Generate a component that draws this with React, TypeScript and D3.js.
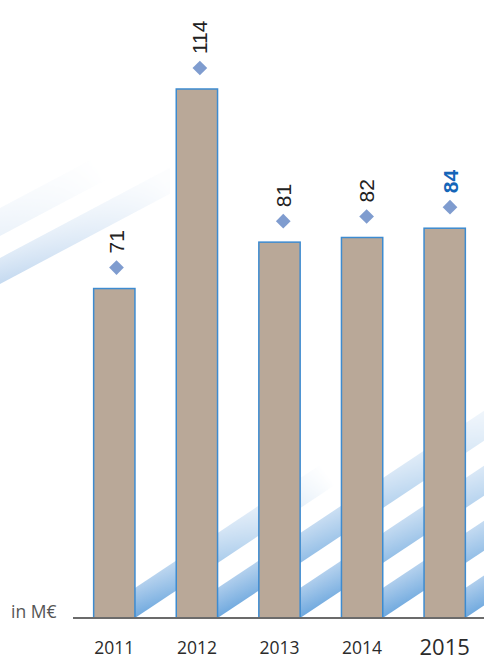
import { useMemo } from 'react'
import * as d3 from 'd3'

// revenue per year, in M€
const years = ['2011', '2012', '2013', '2014', '2015']
const revenue = [71, 114, 81, 82, 84]
const highlightYear = '2015'
const unitLabel = 'in M€'

const WIDTH = 484
const HEIGHT = 664
const BASELINE = 618

interface Stripe {
  id: string
  x0: number
  y0: number
  length: number
  slope: number
  thickness: number
  fade: number
  a0: number
  a1: number
  light: string
  dark: string
}

function stripePath(s: Stripe) {
  const { x0, y0, length, slope, thickness } = s
  const x1 = x0 + length
  const y1 = y0 - slope * length
  return `M${x0},${y0}L${x1},${y1}L${x1},${y1 - thickness}L${x0},${y0 - thickness}Z`
}

export default function App() {
  const x = useMemo(() => d3.scaleBand<string>()
    .domain(years)
    .range([73, 486])
    .paddingInner(0.5)
    .paddingOuter(0.25), [])

  // the marker series sits on a slightly wider point scale than the bars
  const markerX = useMemo(() => d3.scalePoint<string>()
    .domain(years)
    .range([116.5, 450]), [])

  const y = useMemo(() => d3.scaleLinear()
    .domain([0, d3.max(revenue) as number])
    .range([BASELINE, 89]), [])

  const diamond = d3.symbol().type(d3.symbolSquare).size(108)() as string

  // decorative diagonal bands: one rises from the right edge of every bar
  const stripes: Stripe[] = useMemo(() => {
    const bottom = years.map((yr, i) => {
      const s = (x(yr) as number) + x.bandwidth()
      return {
        id: `band-${i}`,
        x0: s,
        y0: BASELINE,
        length: WIDTH + 10 - s,
        slope: 0.665,
        thickness: 30,
        fade: Math.min(200 + 140 * i, 340),
        a0: 1,
        a1: 0,
        light: '#a9caeb',
        dark: '#6ea8de'
      }
    })
    const topLeft = [
      { id: 'band-tl-a', x0: -4, y0: 238, length: 110, slope: 0.53, thickness: 28, fade: 110, a0: 0.35, a1: 0, light: '#dde9f6', dark: '#c4d9ef' },
      { id: 'band-tl-b', x0: -4, y0: 286, length: 174, slope: 0.53, thickness: 26, fade: 174, a0: 0.8, a1: 0.06, light: '#d3e3f4', dark: '#b4cfec' }
    ]
    return [...topLeft, ...bottom]
  }, [x])

  return (
    <svg
      width={WIDTH}
      height={HEIGHT}
      style={{ position: 'absolute', left: 0, top: 0, background: '#fff' }}
      fontFamily="'Open Sans', 'Liberation Sans', Arial, sans-serif"
    >
      <defs>
        {stripes.map(s => {
          const k = s.thickness / (1 + s.slope * s.slope)
          return (
            <g key={s.id}>
              <linearGradient
                id={`${s.id}-across`}
                gradientUnits="userSpaceOnUse"
                x1={s.x0}
                y1={s.y0 - s.thickness}
                x2={s.x0 + s.slope * k}
                y2={s.y0 - s.thickness + k}
              >
                <stop offset="0" stopColor={s.light} />
                <stop offset="1" stopColor={s.dark} />
              </linearGradient>
              <linearGradient
                id={`${s.id}-along`}
                gradientUnits="userSpaceOnUse"
                x1={s.x0}
                y1={s.y0}
                x2={s.x0 + s.fade}
                y2={s.y0 - s.slope * s.fade}
              >
                <stop offset="0" stopColor="#fff" stopOpacity={s.a0} />
                <stop offset="1" stopColor="#fff" stopOpacity={s.a1} />
              </linearGradient>
              <mask id={`${s.id}-mask`} maskUnits="userSpaceOnUse" x={0} y={0} width={WIDTH} height={HEIGHT}>
                <rect x={0} y={0} width={WIDTH} height={HEIGHT} fill={`url(#${s.id}-along)`} />
              </mask>
            </g>
          )
        })}
      </defs>

      {/* background bands */}
      <g className="stripes">
        {stripes.map(s => (
          <path
            key={s.id}
            d={stripePath(s)}
            fill={`url(#${s.id}-across)`}
            mask={`url(#${s.id}-mask)`}
          />
        ))}
      </g>

      {/* bars */}
      <g className="bars">
        {years.map((yr, i) => (
          <rect
            key={yr}
            x={x(yr)}
            y={y(revenue[i])}
            width={x.bandwidth()}
            height={BASELINE - y(revenue[i])}
            fill="#b9a898"
            stroke="#3d8bd0"
            strokeWidth={1.5}
          />
        ))}
      </g>

      {/* baseline */}
      <line x1={73} x2={WIDTH} y1={BASELINE} y2={BASELINE} stroke="#6b6b6b" strokeWidth={2} />

      {/* markers and value labels */}
      <g className="markers">
        {years.map((yr, i) => {
          const mx = markerX(yr) as number
          const my = y(revenue[i]) - 21
          const hot = yr === highlightYear
          return (
            <g key={yr}>
              <path d={diamond} transform={`translate(${mx},${my}) rotate(45)`} fill="#7f9ccf" />
              <text
                transform={`translate(${mx},${my - 14}) rotate(-90)`}
                dy="0.36em"
                fontFamily="'Liberation Sans', Arial, sans-serif"
                fontSize={21}
                fontWeight={hot ? 700 : 400}
                fill={hot ? '#1565b8' : '#222'}
              >
                {revenue[i]}
              </text>
            </g>
          )
        })}
      </g>

      {/* x axis labels */}
      <g className="x-axis">
        {years.map(yr => (
          <text
            key={yr}
            x={(x(yr) as number) + x.bandwidth() / 2}
            y={yr === highlightYear ? 655 : 654}
            textAnchor="middle"
            fontSize={yr === highlightYear ? 22 : 17.5}
            fill="#2b2b2b"
          >
            {yr}
          </text>
        ))}
      </g>

      <text x={11} y={618} fontSize={17.5} fill="#555">{unitLabel}</text>
    </svg>
  )
}
